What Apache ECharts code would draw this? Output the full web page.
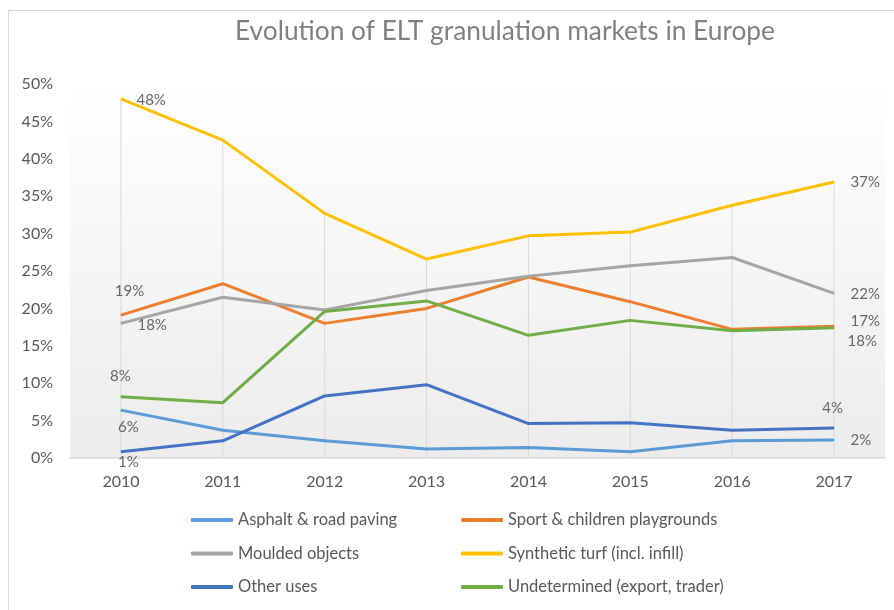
<!DOCTYPE html>
<html>
<head>
<meta charset="utf-8">
<script src="https://cdn.jsdelivr.net/npm/echarts@6/dist/echarts.min.js"></script>
<style>
  html, body { margin: 0; padding: 0; background: #fff; }
  #chart { width: 894px; height: 610px; }
</style>
</head>
<body>
<div id="chart"></div>
<script>
const years = ['2010', '2011', '2012', '2013', '2014', '2015', '2016', '2017'];

const asphalt = [6.4, 3.7, 2.3, 1.2, 1.4, 0.85, 2.3, 2.4];
const sport = [19.1, 23.3, 18.0, 20.0, 24.2, 20.9, 17.2, 17.6];
const moulded = [18.0, 21.5, 19.8, 22.4, 24.3, 25.7, 26.8, 22.0];
const turf = [48.0, 42.5, 32.7, 26.6, 29.7, 30.2, 33.8, 36.9];
const other = [0.85, 2.3, 8.3, 9.8, 4.6, 4.7, 3.7, 4.0];
const undetermined = [8.2, 7.4, 19.6, 21.0, 16.4, 18.4, 17.0, 17.4];

const yTicks = [0, 5, 10, 15, 20, 25, 30, 35, 40, 45, 50];

const chart = echarts.init(document.getElementById('chart'));

const font = 'Lato';
const fmt = function (p) { return Math.round(p.value) + '%'; };

// label placed at [dx, dy] from the point, anchored by align
function endLabel(dx, dy, align) {
    return {
        show: true,
        position: [dx, dy],
        align: align,
        verticalAlign: 'middle',
        fontFamily: font,
        fontSize: 15,
        color: '#666666',
        formatter: fmt
    };
}

// build a line series, with labels only on the first and last year
function lineSeries(name, values, color, first, last) {
    return {
        name: name,
        type: 'line',
        symbol: 'circle',
        symbolSize: 1,
        lineStyle: { width: 3, color: color },
        itemStyle: { color: color },
        z: 3,
        label: { show: false },
        labelLayout: { hideOverlap: false },
        data: values.map(function (v, i) {
            if (i === 0) return { value: v, label: first };
            if (i === values.length - 1) return { value: v, label: last };
            return v;
        })
    };
}

// drop lines from the highest point to the axis
const allSeries = [asphalt, sport, moulded, turf, other, undetermined];
const dropTop = years.map(function (_, i) {
    return Math.max.apply(null, allSeries.map(function (s) { return s[i]; }));
});

const legendText = { fontFamily: font, fontSize: 16.5, color: '#595959', lineHeight: 18 };

chart.setOption({
    backgroundColor: '#ffffff',
    title: {
        text: 'Evolution of ELT granulation markets in Europe',
        left: 230,
        top: 14,
        textStyle: { fontFamily: font, fontSize: 26.3, fontWeight: 'normal', color: '#808080' }
    },
    graphic: [
        { type: 'line', shape: { x1: 8.5, y1: 10, x2: 8.5, y2: 610 }, style: { stroke: '#d9d9d9', lineWidth: 1 } },
        { type: 'line', shape: { x1: 8, y1: 10.5, x2: 894, y2: 10.5 }, style: { stroke: '#d9d9d9', lineWidth: 1 } }
    ],
    grid: {
        left: 70, right: 9, top: 84, bottom: 152,
        show: true,
        borderWidth: 0,
        backgroundColor: new echarts.graphic.LinearGradient(0, 0, 0, 1, [
            { offset: 0, color: '#ffffff' },
            { offset: 1, color: '#ececec' }
        ])
    },
    legend: [
        {
            orient: 'vertical', left: 186, top: 506, itemGap: 15.5,
            icon: 'roundRect', itemWidth: 42, itemHeight: 4,
            textStyle: legendText,
            data: ['Asphalt & road paving', 'Moulded objects', 'Other uses']
        },
        {
            orient: 'vertical', left: 456, top: 506, itemGap: 15.5,
            icon: 'roundRect', itemWidth: 42, itemHeight: 4,
            textStyle: legendText,
            data: ['Sport & children playgrounds', 'Synthetic turf (incl. infill)', 'Undetermined (export, trader)']
        }
    ],
    xAxis: {
        type: 'category',
        data: years,
        boundaryGap: true,
        axisLine: { lineStyle: { color: '#d9d9d9', width: 1.5 } },
        axisTick: { show: false },
        axisLabel: { fontFamily: font, fontSize: 16, color: '#595959', margin: 16 },
        splitLine: { show: false }
    },
    yAxis: {
        type: 'value',
        min: yTicks[0],
        max: yTicks[yTicks.length - 1],
        interval: yTicks[1] - yTicks[0],
        axisLine: { show: false },
        axisTick: { show: false },
        splitLine: { show: false },
        axisLabel: { fontFamily: font, fontSize: 16, color: '#595959', margin: 17, formatter: '{value}%' }
    },
    series: [
        {
            name: 'drop',
            type: 'bar',
            barWidth: 1,
            silent: true,
            z: 1,
            itemStyle: { color: '#d9d9d9' },
            data: dropTop
        },
        lineSeries('Asphalt & road paving', asphalt, '#5b9bd5',
            endLabel(8, 18, 'center'), endLabel(17, 1, 'left')),
        lineSeries('Sport & children playgrounds', sport, '#ed7d31',
            endLabel(9, -23, 'center'), endLabel(14, 15, 'left')),
        lineSeries('Moulded objects', moulded, '#a5a5a5',
            endLabel(17, 2, 'left'), endLabel(17, 1, 'left')),
        lineSeries('Synthetic turf (incl. infill)', turf, '#ffc000',
            endLabel(16, 2, 'left'), endLabel(17, 1, 'left')),
        lineSeries('Other uses', other, '#4472c4',
            endLabel(8, 11, 'center'), endLabel(-1, -19, 'center')),
        lineSeries('Undetermined (export, trader)', undetermined, '#70ad47',
            endLabel(0, -20, 'center'), endLabel(17, -6, 'left'))
    ]
});

window.onresize = function () {
    chart.resize();
};
</script>
</body>
</html>
